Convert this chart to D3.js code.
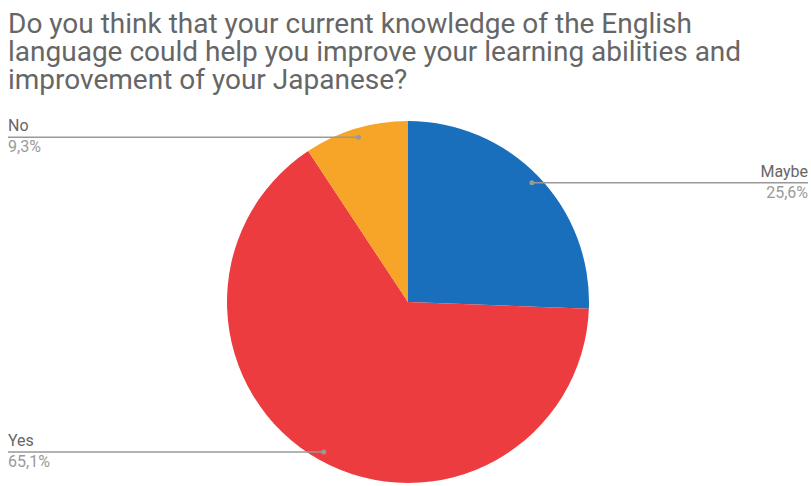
<!DOCTYPE html>
<html>
<head>
<meta charset="utf-8">
<script src="https://cdn.jsdelivr.net/npm/d3@7"></script>
<style>
  body { margin: 0; background: #fff; }
  text { font-family: Roboto, "Noto Sans", sans-serif; }
</style>
</head>
<body>
<div id="chart"></div>
<script>
// data
const categories = ["Maybe", "Yes", "No"];
const shares = [25.6, 65.1, 9.3];
const colors = ["#1a6fbd", "#ec3c40", "#f6a528"];
const titleLines = [
  "Do you think that your current knowledge of the English",
  "language could help you improve your learning abilities and",
  "improvement of your Japanese?"
];

const width = 811, height = 486;
const cx = 408, cy = 302, r = 181;

const svg = d3.select("#chart").append("svg")
  .attr("width", width)
  .attr("height", height);

// title
svg.append("g").selectAll("text")
  .data(titleLines)
  .join("text")
  .attr("x", 8)
  .attr("y", (d, i) => 33 + i * 28)
  .attr("font-size", 28)
  .attr("fill", "#666666")
  .text(d => d);

const data = categories.map((c, i) => ({ name: c, value: shares[i], color: colors[i] }));

const pie = d3.pie().value(d => d.value).sort(null);
const arcs = pie(data);
const arc = d3.arc().innerRadius(0).outerRadius(r);

const g = svg.append("g").attr("transform", `translate(${cx},${cy})`);

g.selectAll("path")
  .data(arcs)
  .join("path")
  .attr("d", arc)
  .attr("fill", d => d.data.color);

// labels: dot at the slice's mid angle, horizontal line out to the edge
const anchorArc = d3.arc().innerRadius(r * 0.95).outerRadius(r * 0.95);
const labels = svg.append("g");

arcs.forEach(a => {
  let [px, py] = anchorArc.centroid(a);
  px += cx; py += cy;
  const right = px > cx;
  const edge = right ? 808 : 8;
  const anchor = right ? "end" : "start";

  labels.append("line")
    .attr("x1", edge).attr("y1", py)
    .attr("x2", px).attr("y2", py)
    .attr("stroke", "#999999")
    .attr("stroke-width", 1.5);
  labels.append("circle")
    .attr("cx", px).attr("cy", py)
    .attr("r", 2.5)
    .attr("fill", "#999999");

  labels.append("text")
    .attr("x", edge).attr("y", py - 6)
    .attr("text-anchor", anchor)
    .attr("font-size", 16)
    .attr("fill", "#666666")
    .text(a.data.name);
  labels.append("text")
    .attr("x", edge).attr("y", py + 15)
    .attr("text-anchor", anchor)
    .attr("font-size", 16)
    .attr("fill", "#9a9a9a")
    .text(d3.format(".1f")(a.data.value).replace(".", ",") + "%");
});
</script>
</body>
</html>
